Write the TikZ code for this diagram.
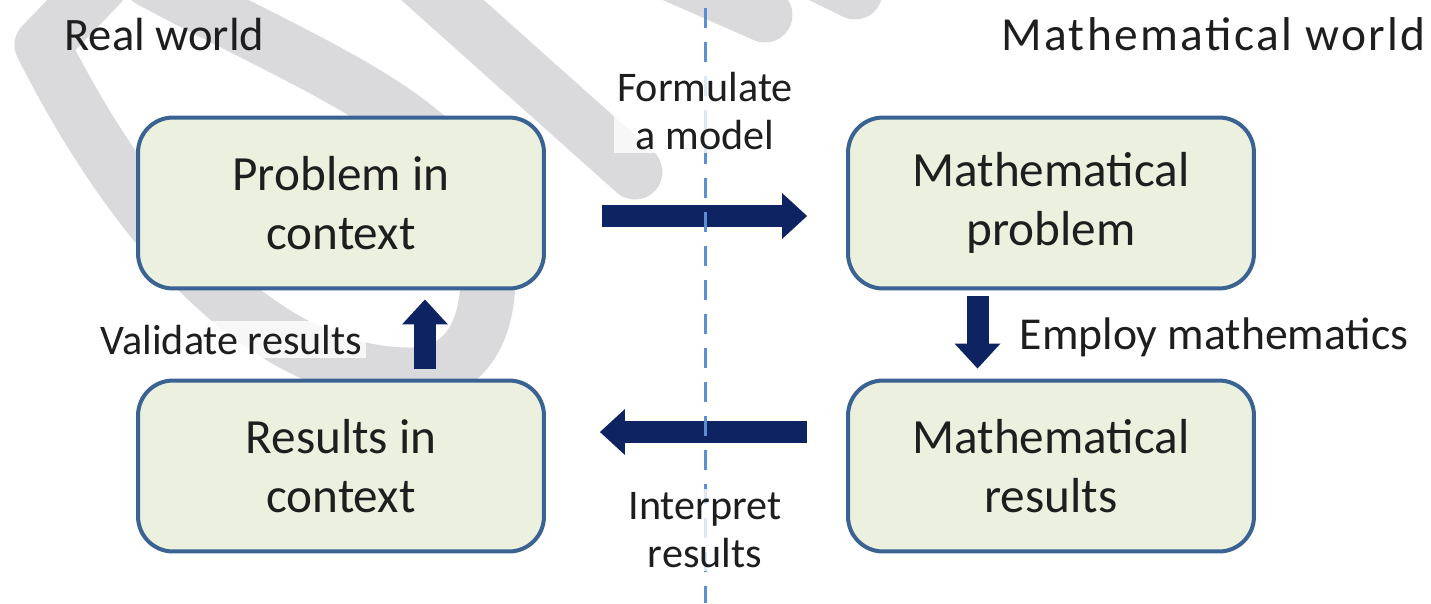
\documentclass[tikz,border=0pt]{standalone}
\usepackage{fontspec}
\setmainfont{Carlito}
\usetikzlibrary{arrows.meta}
\definecolor{boxfill}{HTML}{EBF0DF}
\definecolor{boxline}{HTML}{3A6293}
\definecolor{arrowblue}{RGB}{14,36,98}
\definecolor{dashblue}{HTML}{5B8FD0}
\definecolor{wmgrey}{RGB}{218,218,220}
\definecolor{inkgrey}{RGB}{30,30,30}
\begin{document}
\begin{tikzpicture}[x=0.02cm,y=-0.02cm,every node/.style={text=inkgrey},
	stage/.style={draw=boxline,line width=0.08cm,fill=boxfill,rounded corners=0.7cm,
		minimum width=8.12cm,minimum height=3.42cm,align=center,font=\fontsize{28}{34}\selectfont},
	flowarrow/.style={arrowblue,line width=0.44cm,-{Triangle[width=0.92cm,length=0.5cm,line width=0pt]}},
	caption/.style={align=center,font=\fontsize{24}{27}\selectfont,fill=white,fill opacity=0.8,text opacity=1,inner sep=2pt},
	heading/.style={font=\fontsize{26.5}{30}\selectfont,inner sep=0pt},
	divider/.style={dashblue,line width=0.06cm,dash pattern=on 0.4cm off 0.28cm},
	wmark/.style={wmgrey,line width=1.1cm,line cap=round,line join=round}]
	\useasboundingbox (0,0) rectangle (1431,603);
	% watermark in the back
	\draw[wmark] (100,-15) -- (42,45) .. controls (120,200) and (250,375) .. (410,375)
		.. controls (500,375) and (500,260) .. (470,190) .. controls (430,110) and (300,60) .. (150,-20);
	\draw[wmark] (420,-20) -- (635,172);
	\draw[wmark] (640,-40) -- (765,15);
	\draw[wmark] (790,-40) -- (855,-8);
	% the four stages
	\node[stage] (probctx) at (341,203) {Problem in\\context};
	\node[stage] (mathprob) at (1051,203) {Mathematical\\problem};
	\node[stage] (resctx) at (341,466) {Results in\\context};
	\node[stage] (mathres) at (1051,466) {Mathematical\\results};
	% arrows between them
	\draw[flowarrow] ([xshift=1.12cm,yshift=-0.26cm]probctx.east) -- ([xshift=-0.78cm,yshift=-0.26cm]mathprob.west);
	\draw[flowarrow] ([xshift=-1.47cm,yshift=-0.12cm]mathprob.south) -- ([xshift=-1.47cm,yshift=0.2cm]mathres.north);
	\draw[flowarrow] ([xshift=-0.78cm,yshift=0.68cm]mathres.west) -- ([xshift=1.08cm,yshift=0.68cm]resctx.east);
	\draw[flowarrow] ([xshift=1.68cm,yshift=0.2cm]resctx.north) -- ([xshift=1.68cm,yshift=-0.18cm]probctx.south);
	% border between the two worlds
	\coordinate (dtop) at (705,8);
	\coordinate (dbot) at (705,603);
	\draw[divider] (dtop) -- (dbot);
	% labels
	\node[caption] (formlbl) at (705,111) {Formulate\\a model};
	\node[caption] (interlbl) at (705,530) {Interpret\\results};
	\node[caption,anchor=base east] (valilbl) at (366,354) {Validate results};
	\node[caption,anchor=base west,font=\fontsize{26}{29}\selectfont] (emplbl) at (1016,349) {Employ mathematics};
	\node[heading,anchor=base west] (realw) at (64,50) {Real world};
	\node[heading,anchor=base east,font=\fontsize{27}{30}\selectfont\addfontfeature{LetterSpace=5}] (mathw) at (1426,50) {Mathematical world};
\end{tikzpicture}
\end{document}
